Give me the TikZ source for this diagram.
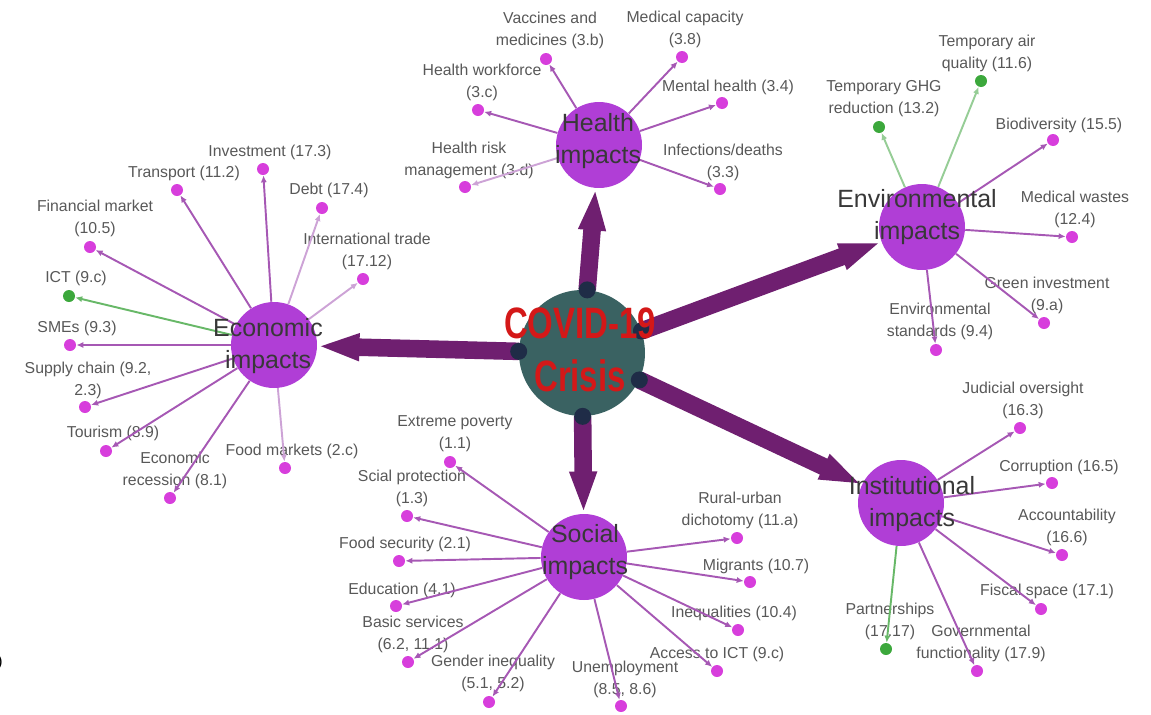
\documentclass[tikz,border=0pt]{standalone}
\usepackage{fontspec}
\setmainfont{Liberation Sans}
\usepackage{tikz}
\usetikzlibrary{arrows.meta, positioning}

\definecolor{hubpurple}{RGB}{176,62,214}
\definecolor{leafpink}{RGB}{215,62,220}
\definecolor{leafgreen}{RGB}{60,168,60}
\definecolor{crisisteal}{RGB}{58,98,98}
\definecolor{crisisred}{RGB}{212,24,24}
\definecolor{arrowplum}{RGB}{111,31,112}
\definecolor{joinnavy}{RGB}{31,44,71}
\definecolor{linkmauve}{RGB}{166,88,180}
\definecolor{linklilac}{RGB}{205,163,214}
\definecolor{linkmint}{RGB}{150,205,150}
\definecolor{linkgreen}{RGB}{104,184,104}
\definecolor{labelgray}{RGB}{88,88,88}

\begin{document}
\begin{tikzpicture}[
    x=0.02cm, y=-0.02cm,
    crisis/.style = {circle, fill=crisisteal, minimum size=2.52cm, inner sep=0pt},
    crisistext/.style = {text=crisisred, align=center, font=\fontsize{25}{30.5}\selectfont\bfseries},
    hub/.style = {circle, fill=hubpurple, minimum size=1.72cm, inner sep=0pt},
    hubtext/.style = {text=black!78, align=center, font=\fontsize{14.2}{18.2}\selectfont},
    leaf/.style = {circle, fill=leafpink, minimum size=0.24cm, inner sep=0pt},
    greenleaf/.style = {circle, fill=leafgreen, minimum size=0.24cm, inner sep=0pt},
    tag/.style = {text=labelgray, align=center, inner sep=0pt, font=\fontsize{9}{12.5}\selectfont},
    junction/.style = {circle, fill=joinnavy, minimum size=0.34cm, inner sep=0pt},
    bigarrow/.style = {draw=arrowplum, line width=10pt, -{Triangle[width=14pt, length=24pt]}},
    link/.style = {draw=linkmauve, line width=1.1pt, -{Latex[length=4pt, width=3.5pt]}},
    lightlink/.style = {link, draw=linklilac},
    mintlink/.style = {link, draw=linkmint},
    greenlink/.style = {link, draw=linkgreen}
]

\useasboundingbox (0, 0) rectangle (1151, 714);

% hubs
\node [crisis] (covid) at (582, 353) {};
\node [hub] (health) at (599, 145) {};
\node [hub] (env) at (922, 227) {};
\node [hub] (eco) at (274, 345) {};
\node [hub] (social) at (584, 557) {};
\node [hub] (inst) at (901, 503) {};

% health
\node [tag] (th1) at (550, 30) {Vaccines and\\medicines (3.b)};
\node [tag] (th2) at (685, 29) {Medical capacity\\(3.8)};
\node [tag] (th3) at (482, 82) {Health workforce\\(3.c)};
\node [tag] (th4) at (728, 87) {Mental health (3.4)};
\node [tag] (th5) at (469, 160) {Health risk\\management (3.d)};
\node [tag] (th6) at (723, 162) {Infections/deaths\\(3.3)};
\node [leaf] (h1) at (546, 59) {};
\node [leaf] (h2) at (682, 57) {};
\node [leaf] (h3) at (478, 110) {};
\node [leaf] (h4) at (722, 103) {};
\node [leaf] (h5) at (465, 187) {};
\node [leaf] (h6) at (720, 189) {};

% environment
\node [tag] (tv1) at (987, 53) {Temporary air\\quality (11.6)};
\node [tag] (tv2) at (884, 99) {Temporary GHG\\reduction (13.2)};
\node [tag] (tv3) at (1059, 125) {Biodiversity (15.5)};
\node [tag] (tv4) at (1075, 209) {Medical wastes\\(12.4)};
\node [tag] (tv5) at (1047, 295) {Green investment\\(9.a)};
\node [tag] (tv6) at (940, 321) {Environmental\\standards (9.4)};
\node [greenleaf] (v1) at (981, 81) {};
\node [greenleaf] (v2) at (879, 127) {};
\node [leaf] (v3) at (1053, 140) {};
\node [leaf] (v4) at (1072, 237) {};
\node [leaf] (v5) at (1044, 323) {};
\node [leaf] (v6) at (936, 350) {};

% economic
\node [tag] (te1) at (270, 152) {Investment (17.3)};
\node [tag] (te2) at (184, 173) {Transport (11.2)};
\node [tag] (te3) at (329, 190) {Debt (17.4)};
\node [tag] (te4) at (95, 218) {Financial market\\(10.5)};
\node [tag] (te5) at (367, 251) {International trade\\(17.12)};
\node [tag] (te6) at (76, 278) {ICT (9.c)};
\node [tag] (te7) at (77, 328) {SMEs (9.3)};
\node [tag] (te8) at (88, 380) {Supply chain (9.2,\\2.3)};
\node [tag] (te9) at (113, 433) {Tourism (8.9)};
\node [tag] (te10) at (175, 470) {Economic\\recession (8.1)};
\node [tag] (te11) at (292, 451) {Food markets (2.c)};
\node [leaf] (e1) at (263, 169) {};
\node [leaf] (e2) at (177, 190) {};
\node [leaf] (e3) at (322, 208) {};
\node [leaf] (e4) at (90, 247) {};
\node [leaf] (e5) at (363, 279) {};
\node [greenleaf] (e6) at (69, 296) {};
\node [leaf] (e7) at (70, 345) {};
\node [leaf] (e8) at (85, 407) {};
\node [leaf] (e9) at (106, 451) {};
\node [leaf] (e10) at (170, 498) {};
\node [leaf] (e11) at (285, 468) {};

% social
\node [tag] (ts1) at (455, 434) {Extreme poverty\\(1.1)};
\node [tag] (ts2) at (412, 488) {Scial protection\\(1.3)};
\node [tag] (ts3) at (405, 544) {Food security (2.1)};
\node [tag] (ts4) at (402, 590) {Education (4.1)};
\node [tag] (ts5) at (413, 634) {Basic services\\(6.2, 11.1)};
\node [tag] (ts6) at (493, 673) {Gender inequality\\(5.1, 5.2)};
\node [tag] (ts7) at (625, 679) {Unemployment\\(8.5, 8.6)};
\node [tag] (ts8) at (740, 510) {Rural-urban\\dichotomy (11.a)};
\node [tag] (ts9) at (756, 566) {Migrants (10.7)};
\node [tag] (ts10) at (734, 613) {Inequalities (10.4)};
\node [tag] (ts11) at (717, 654) {Access to ICT (9.c)};
\node [leaf] (s1) at (450, 462) {};
\node [leaf] (s2) at (407, 516) {};
\node [leaf] (s3) at (399, 561) {};
\node [leaf] (s4) at (396, 606) {};
\node [leaf] (s5) at (408, 662) {};
\node [leaf] (s6) at (489, 702) {};
\node [leaf] (s7) at (621, 706) {};
\node [leaf] (s8) at (737, 538) {};
\node [leaf] (s9) at (750, 582) {};
\node [leaf] (s10) at (738, 630) {};
\node [leaf] (s11) at (717, 671) {};

% institutional
\node [tag] (ti1) at (1023, 400) {Judicial oversight\\(16.3)};
\node [tag] (ti2) at (1059, 467) {Corruption (16.5)};
\node [tag] (ti3) at (1067, 527) {Accountability\\(16.6)};
\node [tag] (ti4) at (1047, 591) {Fiscal space (17.1)};
\node [tag] (ti5) at (890, 621) {Partnerships\\(17.17)};
\node [tag] (ti6) at (981, 643) {Governmental\\functionality (17.9)};
\node [leaf] (i1) at (1020, 428) {};
\node [leaf] (i2) at (1052, 483) {};
\node [leaf] (i3) at (1062, 555) {};
\node [leaf] (i4) at (1041, 609) {};
\node [greenleaf] (i5) at (886, 649) {};
\node [leaf] (i6) at (977, 671) {};

\node [text=black, inner sep=0pt, font=\fontsize{9}{12}\selectfont] (edge) at (0, 662) {)};

\draw[link] (health) -- (h1);
\draw[link] (health) -- (h2);
\draw[link] (health) -- (h3);
\draw[link] (health) -- (h4);
\draw[lightlink] (health) -- (h5);
\draw[link] (health) -- (h6);

\draw[mintlink] (env) -- (v1);
\draw[mintlink] (env) -- (v2);
\draw[link] (env) -- (v3);
\draw[link] (env) -- (v4);
\draw[link] (env) -- (v5);
\draw[link] (env) -- (v6);

\draw[link] (eco) -- (e1);
\draw[link] (eco) -- (e2);
\draw[lightlink] (eco) -- (e3);
\draw[link] (eco) -- (e4);
\draw[lightlink] (eco) -- (e5);
\draw[greenlink] (eco) -- (e6);
\draw[link] (eco) -- (e7);
\draw[link] (eco) -- (e8);
\draw[link] (eco) -- (e9);
\draw[link] (eco) -- (e10);
\draw[lightlink] (eco) -- (e11);

\foreach \n in {s1, s2, s3, s4, s5, s6, s7, s8, s9, s10, s11}
    \draw[link] (social) -- (\n);

\draw[link] (inst) -- (i1);
\draw[link] (inst) -- (i2);
\draw[link] (inst) -- (i3);
\draw[link] (inst) -- (i4);
\draw[greenlink] (inst) -- (i5);
\draw[link] (inst) -- (i6);

\draw[bigarrow] (covid) -- node[pos=0, junction] (j1) {} (health);
\draw[bigarrow] (covid) -- node[pos=0, junction] (j2) {} (env);
\draw[bigarrow] (covid) -- node[pos=0, junction] (j3) {} (eco);
\draw[bigarrow] (covid) -- node[pos=0, junction] (j4) {} (social);
\draw[bigarrow] (covid) -- node[pos=0, junction] (j5) {} (inst);

\node [crisistext] (covidtext) at (580, 350) {\scalebox{0.75}[1]{COVID-19}\\\scalebox{0.75}[1]{Crisis}};
\node [hubtext] (healthtext) at (598, 141) {Health\\impacts};
\node [hubtext] (envtext) at (917, 217) {Environmental\\impacts};
\node [hubtext] (ecotext) at (268, 346) {Economic\\impacts};
\node [hubtext] (socialtext) at (585, 552) {Social\\impacts};
\node [hubtext] (insttext) at (912, 504) {Institutional\\impacts};

\end{tikzpicture}
\end{document}
